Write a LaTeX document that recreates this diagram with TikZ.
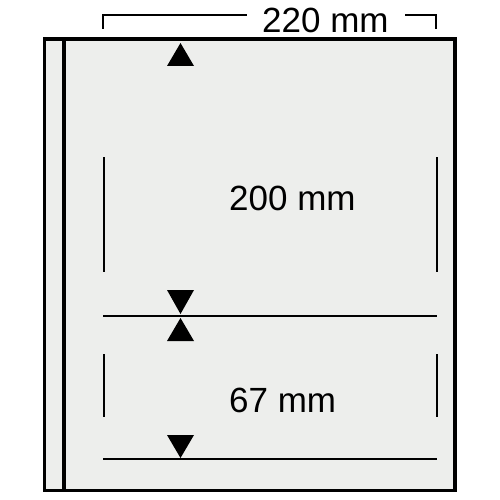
\documentclass[tikz,border=0pt]{standalone}
\usepackage{fontspec}
\setmainfont{Liberation Sans}
\usetikzlibrary{positioning}
\definecolor{sheet}{HTML}{EDEEEC}

\begin{document}
\begin{tikzpicture}[x=1pt,y=-1pt,
  dim/.style={line width=1.4pt},
  lbl/.style={anchor=base west, inner sep=0pt, font=\fontsize{35}{40}\selectfont}]
\useasboundingbox (0,0) rectangle (500,500);
% sheet
\draw[fill=sheet, line width=3.8pt] (44.5,39) rectangle (455,490.5);
\draw[line width=3.6pt] (64,39)--(64,490.5);
% width
\draw[dim] (103,29)--(103,15)--(247,15);
\draw[dim] (405,15)--(436,15)--(436,29);
\path (262,33) node[lbl] (width) {220 mm};
% strips
\draw[dim] (103,316)--(437,316);
\draw[dim] (103,459)--(437,459);
\foreach \x in {104,437} \draw[dim] (\x,157)--(\x,272);
\foreach \x in {104,437} \draw[dim] (\x,354)--(\x,417);
\path (229,210) node[lbl] (upper) {200 mm};
\path (229,412) node[lbl] (lower) {67 mm};
% arrows
\fill (180.5,43)--(194,66)--(167,66)--cycle;
\fill (180.5,314)--(194,290)--(167,290)--cycle;
\fill (180.5,318)--(194,341)--(167,341)--cycle;
\fill (180.5,458)--(194,435)--(167,435)--cycle;
\end{tikzpicture}
\end{document}
